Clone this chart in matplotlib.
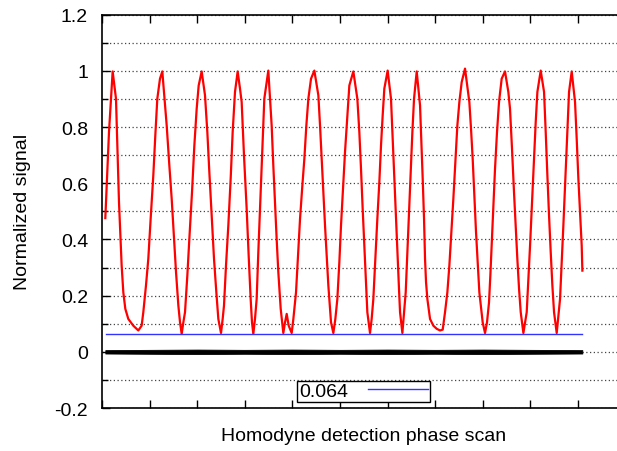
import matplotlib
import numpy as np
from matplotlib import pyplot as plt
from matplotlib.ticker import FuncFormatter, MultipleLocator

plt.rcParams["font.family"] = ["Liberation Sans", "DejaVu Sans"]
plt.rcParams["font.size"] = 14

# red trace: homodyne fringes
signal_x = [
    0.070, 0.147, 0.224, 0.294, 0.357, 0.413, 0.448, 0.490, 0.553, 0.658, 0.763, 0.833, 0.868,
    0.924, 0.973, 1.022, 1.078, 1.120, 1.162, 1.218, 1.267,
    1.359, 1.415, 1.464, 1.513, 1.555, 1.604, 1.639, 1.674,
    1.709, 1.744, 1.793, 1.835, 1.891, 1.940, 1.989, 2.031, 2.094,
    2.164, 2.213, 2.255, 2.304, 2.353, 2.402, 2.444, 2.500,
    2.535, 2.563, 2.605, 2.654, 2.703, 2.745, 2.794, 2.850,
    2.899, 2.934, 2.983, 3.039, 3.081, 3.123, 3.151, 3.179,
    3.214, 3.249, 3.284, 3.319, 3.361, 3.410,
    3.494, 3.564, 3.599, 3.634, 3.669, 3.704, 3.754, 3.809, 3.845, 3.880, 3.922, 3.985,
    4.020, 4.076, 4.118, 4.160, 4.209, 4.251, 4.293, 4.335, 4.391, 4.461,
    4.545, 4.580, 4.615, 4.650, 4.685, 4.720, 4.755, 4.811, 4.860,
    4.902, 4.944, 4.986, 5.021, 5.063, 5.105, 5.154, 5.196, 5.280,
    5.364, 5.406, 5.441, 5.476, 5.511, 5.546, 5.574, 5.630,
    5.665, 5.700, 5.742, 5.784, 5.826, 5.861, 5.896, 5.931, 6.001,
    6.071, 6.106, 6.141, 6.176, 6.211, 6.239, 6.261, 6.310,
    6.345, 6.380, 6.415, 6.450, 6.485, 6.520, 6.555, 6.611,
    6.681, 6.709, 6.737, 6.765, 6.786, 6.807, 6.835, 6.891, 6.961, 7.031, 7.101, 7.157,
    7.206, 7.255, 7.297, 7.339, 7.381, 7.423, 7.465, 7.507, 7.556, 7.626,
    7.717, 7.752, 7.787, 7.822, 7.857, 7.892, 7.927, 7.997, 8.046,
    8.088, 8.130, 8.158, 8.186, 8.221, 8.256, 8.298, 8.340, 8.396, 8.466,
    8.536, 8.571, 8.613, 8.655, 8.690, 8.725, 8.761, 8.796, 8.852,
    8.887, 8.922, 8.957, 8.992, 9.034, 9.076, 9.111, 9.146, 9.216,
    9.286, 9.321, 9.356, 9.391, 9.426, 9.461, 9.496, 9.552,
    9.587, 9.622, 9.657, 9.692, 9.727, 9.762, 9.811, 9.867,
    9.937, 9.972, 10.007, 10.042, 10.077, 10.091,
]
signal_y = [
    0.476, 0.782, 0.998, 0.901, 0.533, 0.307, 0.212, 0.153, 0.117, 0.093, 0.076, 0.093, 0.141,
    0.236, 0.331, 0.473, 0.628, 0.770, 0.901, 0.972, 0.998,
    0.806, 0.663, 0.545, 0.402, 0.284, 0.165, 0.105, 0.064,
    0.105, 0.141, 0.272, 0.402, 0.568, 0.734, 0.865, 0.948, 0.998,
    0.913, 0.782, 0.640, 0.485, 0.331, 0.212, 0.117, 0.067,
    0.117, 0.165, 0.307, 0.450, 0.616, 0.782, 0.925, 0.998,
    0.937, 0.889, 0.699, 0.509, 0.343, 0.188, 0.105, 0.064,
    0.117, 0.188, 0.355, 0.509, 0.687, 0.901,
    1.001, 0.806, 0.663, 0.533, 0.402, 0.284, 0.153, 0.067, 0.105, 0.135, 0.093, 0.067,
    0.117, 0.212, 0.343, 0.473, 0.592, 0.687, 0.806, 0.901, 0.972, 1.001,
    0.913, 0.806, 0.687, 0.568, 0.450, 0.343, 0.236, 0.105, 0.067,
    0.117, 0.188, 0.319, 0.450, 0.580, 0.711, 0.841, 0.948, 0.998,
    0.901, 0.782, 0.651, 0.509, 0.378, 0.248, 0.141, 0.067,
    0.117, 0.188, 0.331, 0.473, 0.604, 0.734, 0.841, 0.937, 1.001,
    0.901, 0.758, 0.616, 0.473, 0.331, 0.224, 0.141, 0.067,
    0.141, 0.212, 0.355, 0.497, 0.640, 0.782, 0.901, 0.998,
    0.877, 0.746, 0.616, 0.473, 0.331, 0.248, 0.188, 0.117, 0.093, 0.082, 0.076, 0.079,
    0.141, 0.212, 0.307, 0.426, 0.545, 0.675, 0.806, 0.889, 0.960, 1.008,
    0.889, 0.794, 0.687, 0.556, 0.426, 0.319, 0.212, 0.105, 0.067,
    0.105, 0.176, 0.272, 0.378, 0.509, 0.651, 0.782, 0.889, 0.972, 0.998,
    0.925, 0.865, 0.723, 0.568, 0.450, 0.331, 0.224, 0.141, 0.067,
    0.105, 0.141, 0.260, 0.378, 0.533, 0.687, 0.818, 0.925, 1.001,
    0.925, 0.782, 0.628, 0.485, 0.355, 0.236, 0.141, 0.067,
    0.129, 0.188, 0.319, 0.450, 0.592, 0.734, 0.925, 0.998,
    0.889, 0.758, 0.616, 0.497, 0.378, 0.289,
]

# black trace: vacuum noise band around zero
noise_x = [0.07, 1.0, 2.0, 3.0, 4.0, 5.0, 6.0, 7.0, 8.0, 9.0, 10.09]
noise_hi = [0.006, 0.007, 0.008, 0.007, 0.008, 0.007, 0.008, 0.007, 0.008, 0.007, 0.006]
noise_lo = [-0.006, -0.007, -0.008, -0.007, -0.008, -0.007, -0.008, -0.007, -0.008, -0.007, -0.006]

# blue line: minimum level
level = 0.064
level_x = [0.084, 10.08]
level_label = "0.064"

fig = plt.figure(figsize=(6.17, 4.52), dpi=100)
ax = fig.add_axes([0.1653, 0.0951, 1.014 - 0.1653, 0.9653 - 0.0951])

ax.fill_between(noise_x, noise_lo, noise_hi, color="black", lw=0.6, zorder=2)
ax.plot(signal_x, signal_y, color="#ff0000", lw=1.6, zorder=3)
ax.plot(level_x, [level, level], color="#3333ff", lw=1.0, label=level_label, zorder=4)

ax.set_xlim(0, 11)
ax.set_ylim(-0.2, 1.2)
ax.xaxis.set_major_locator(MultipleLocator(1))
ax.yaxis.set_major_locator(MultipleLocator(0.2))
ax.yaxis.set_minor_locator(MultipleLocator(0.1))
ax.yaxis.set_major_formatter(FuncFormatter(lambda v, p: f"{v:g}" if abs(v) > 1e-9 else "0"))
ax.tick_params(axis="x", which="both", direction="in", top=True, labelbottom=False, length=6, width=1)
ax.tick_params(axis="y", which="major", direction="in", right=True, length=6, width=1, pad=10)
ax.tick_params(axis="y", which="minor", direction="in", right=True, length=4, width=1)
ax.grid(axis="y", which="both", linestyle=(0, (1, 2)), color="#444444", lw=0.9)
for s in ax.spines.values():
    s.set_linewidth(1.2)

ax.set_xlabel("Homodyne detection phase scan", labelpad=14)
ax.set_ylabel("Normalized signal", labelpad=17)

leg = ax.legend(
    loc="center",
    bbox_to_anchor=(0.4994, 0.042),
    markerfirst=False,
    fancybox=False,
    framealpha=1,
    edgecolor="black",
    handlelength=3.1,
    borderpad=0.1,
    handletextpad=1.0,
    borderaxespad=0,
)
leg.get_frame().set_linewidth(1.0)

fig.savefig("out.png", dpi=100)
